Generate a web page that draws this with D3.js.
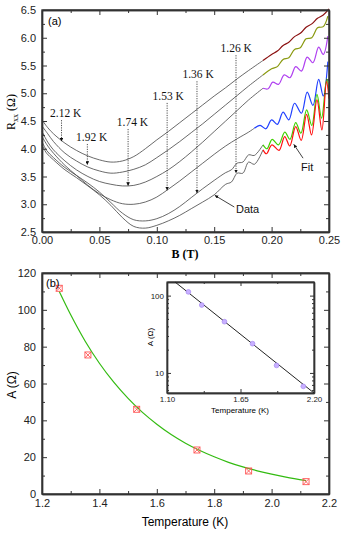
<!DOCTYPE html>
<html><head><meta charset="utf-8">
<script src="https://cdn.jsdelivr.net/npm/d3@7"></script>
<style>
body{margin:0;background:#fff}
svg{display:block}
.ax path,.ax line{stroke:#333}
.ax path{stroke-width:1.4}
.ax text{font-family:"Liberation Sans",Arial,sans-serif;font-size:11px;fill:#222}
.serif{font-family:"Liberation Serif","Times New Roman",serif}
.sans{font-family:"Liberation Sans",Arial,sans-serif}
</style></head><body>
<svg id="chart" width="346" height="533"></svg>
<script>
// ---- panel (a): R_xx vs B, black data curves (B in T, R in ohm)
var data_212 = [[0,4.52],[0.005,4.38],[0.01,4.27],[0.02,4.10],[0.03,3.97],[0.04,3.87],[0.05,3.80],[0.06,3.76],[0.07,3.78],[0.08,3.86],[0.09,4.00],[0.10,4.16],[0.11,4.31],[0.12,4.47],[0.13,4.63],[0.14,4.79],[0.15,4.95],[0.16,5.10],[0.17,5.26],[0.18,5.41],[0.1925,5.59]];
var data_192 = [[0,4.41],[0.005,4.27],[0.01,4.13],[0.02,3.92],[0.03,3.78],[0.04,3.67],[0.05,3.60],[0.06,3.56],[0.07,3.58],[0.08,3.63],[0.09,3.71],[0.10,3.84],[0.11,3.98],[0.12,4.13],[0.13,4.29],[0.14,4.45],[0.15,4.62],[0.16,4.79],[0.17,4.96],[0.18,5.13],[0.1925,5.33]];
var data_174 = [[0,4.31],[0.005,4.12],[0.01,3.98],[0.02,3.78],[0.03,3.62],[0.04,3.50],[0.05,3.41],[0.06,3.36],[0.07,3.33],[0.08,3.34],[0.09,3.40],[0.10,3.50],[0.11,3.62],[0.12,3.77],[0.13,3.94],[0.14,4.12],[0.15,4.31],[0.16,4.50],[0.17,4.69],[0.18,4.88],[0.1925,5.09]];
var data_153 = [[0,4.22],[0.005,4.05],[0.01,3.92],[0.02,3.70],[0.03,3.52],[0.04,3.34],[0.05,3.19],[0.06,3.08],[0.07,3.01],[0.08,3.00],[0.09,3.04],[0.10,3.13],[0.11,3.27],[0.12,3.42],[0.13,3.58],[0.14,3.74],[0.15,3.90],[0.16,4.05],[0.17,4.18],[0.18,4.30],[0.185,4.37]];
var data_136 = [[0,4.13],[0.004,3.97],[0.01,3.84],[0.02,3.66],[0.03,3.52],[0.04,3.38],[0.05,3.22],[0.06,3.03],[0.07,2.84],[0.08,2.72],[0.09,2.70],[0.10,2.74],[0.11,2.83],[0.12,2.96],[0.13,3.12],[0.14,3.28],[0.15,3.43],[0.16,3.57],[0.165,3.62],[0.17,3.74],[0.175,3.76],[0.18,3.89],[0.185,3.88],[0.1925,4.07]];
var data_126 = [[0,4.07],[0.004,3.92],[0.01,3.80],[0.02,3.62],[0.03,3.48],[0.04,3.33],[0.05,3.17],[0.06,2.98],[0.07,2.76],[0.08,2.60],[0.09,2.57],[0.10,2.62],[0.11,2.70],[0.12,2.80],[0.13,2.92],[0.14,3.04],[0.15,3.17],[0.16,3.36],[0.165,3.40],[0.17,3.56],[0.175,3.56],[0.18,3.76],[0.185,3.72],[0.1925,3.98]];

// ---- panel (a): coloured fits (peaks and troughs)
var fit_212 = [[0.1925,5.59],[0.20,5.70],[0.205,5.76],[0.21,5.86],[0.215,5.92],[0.22,6.02],[0.225,6.08],[0.23,6.19],[0.235,6.25],[0.24,6.35],[0.245,6.41],[0.25,6.52]];
var fit_192 = [[0.1925,5.33],[0.20,5.44],[0.205,5.48],[0.21,5.61],[0.215,5.64],[0.22,5.79],[0.225,5.82],[0.23,5.98],[0.235,6.00],[0.24,6.18],[0.245,6.20],[0.249,6.39]];
var fit_174 = [[0.1925,5.09],[0.197,5.08],[0.201,5.20],[0.206,5.16],[0.211,5.33],[0.216,5.28],[0.221,5.48],[0.226,5.40],[0.231,5.65],[0.236,5.55],[0.241,5.83],[0.245,5.70],[0.249,6.03]];
var fit_153 = [[0.185,4.37],[0.19,4.42],[0.195,4.36],[0.20,4.52],[0.205,4.44],[0.21,4.66],[0.215,4.52],[0.22,4.82],[0.226,4.64],[0.231,5.02],[0.236,4.78],[0.241,5.25],[0.245,4.95],[0.249,5.57]];
var fit_136 = [[0.1925,4.07],[0.196,4.00],[0.2005,4.17],[0.206,4.07],[0.2115,4.30],[0.216,4.17],[0.221,4.47],[0.2255,4.28],[0.2305,4.70],[0.235,4.42],[0.2395,4.98],[0.2435,4.55],[0.248,5.26],[0.25,5.0]];
var fit_126 = [[0.1925,3.98],[0.1955,3.91],[0.2003,4.07],[0.2065,3.97],[0.2114,4.22],[0.2158,4.05],[0.221,4.40],[0.2258,4.15],[0.2305,4.62],[0.2348,4.25],[0.2395,4.88],[0.2438,4.34],[0.2478,5.21],[0.25,4.9]];

var temp_labels = ["2.12 K", "1.92 K", "1.74 K", "1.53 K", "1.36 K", "1.26 K"];
var arrow_B = [0.017, 0.0395, 0.075, 0.109, 0.135, 0.169];
var arrow_tip_R = [4.13, 3.71, 3.33, 3.25, 3.20, 3.56];
var label_B = [0.0207, 0.0433, 0.0788, 0.110, 0.136, 0.1692];
var label_R = [4.57, 4.14, 4.41, 4.88, 5.27, 5.74];
var fit_colors = ["#8b1010", "#8a9a10", "#b040f0", "#2040ff", "#40d000", "#ff1010"];

// ---- panel (b): amplitude A vs temperature
var temps = [1.26, 1.36, 1.53, 1.74, 1.92, 2.12];
var amplitude = [111.7, 75.5, 46.0, 23.9, 12.5, 6.7];
var fit_T = [1.26, 1.30, 1.35, 1.40, 1.45, 1.50, 1.55, 1.60, 1.65, 1.70, 1.75, 1.80, 1.85, 1.90, 1.95, 2.00, 2.05, 2.12];
var fit_A = [110.0, 97.3, 83.1, 71.0, 60.7, 51.9, 44.3, 37.9, 32.3, 27.6, 23.6, 20.2, 17.2, 14.7, 12.6, 10.8, 9.2, 7.3];
// inset: straight line on log axis
var inset_line_T = [1.16, 2.20];
var inset_line_A = [150, 5.5];

var svg = d3.select("#chart");

function frame(g, x, y, o) {
    var w = x.range()[1] - x.range()[0];
    var h = y.range()[0] - y.range()[1];
    var fs = o.fs || 11;
    var major = o.major || 5, minor = o.minor || 3;
    // bottom
    g.append("g").attr("class", "ax").attr("transform", "translate(0," + h + ")")
        .call(d3.axisBottom(x).tickValues(o.xMinor).tickSize(-minor).tickSizeOuter(0).tickFormat(""));
    var xb = g.append("g").attr("class", "ax").attr("transform", "translate(0," + h + ")")
        .call(d3.axisBottom(x).tickValues(o.xTicks).tickSize(-major).tickSizeOuter(0).tickPadding(o.xpad || 4).tickFormat(o.xFmt));
    xb.selectAll("text").style("font-size", fs + "px");
    // top
    g.append("g").attr("class", "ax")
        .call(d3.axisTop(x).tickValues(o.xMinor).tickSize(-minor).tickSizeOuter(0).tickFormat(""));
    g.append("g").attr("class", "ax")
        .call(d3.axisTop(x).tickValues(o.xTicks).tickSize(-major).tickSizeOuter(0).tickFormat(""));
    // left
    g.append("g").attr("class", "ax")
        .call(d3.axisLeft(y).tickValues(o.yMinor).tickSize(-minor).tickSizeOuter(0).tickFormat(""));
    var yl = g.append("g").attr("class", "ax")
        .call(d3.axisLeft(y).tickValues(o.yTicks).tickSize(-major).tickSizeOuter(0).tickPadding(o.ypad || 6).tickFormat(o.yFmt));
    yl.selectAll("text").style("font-size", fs + "px");
    // right
    g.append("g").attr("class", "ax").attr("transform", "translate(" + w + ",0)")
        .call(d3.axisRight(y).tickValues(o.yMinor).tickSize(-minor).tickSizeOuter(0).tickFormat(""));
    g.append("g").attr("class", "ax").attr("transform", "translate(" + w + ",0)")
        .call(d3.axisRight(y).tickValues(o.yTicks).tickSize(-major).tickSizeOuter(0).tickFormat(""));
    g.append("rect").attr("width", w).attr("height", h)
        .attr("fill", "none").attr("stroke", "#333").attr("stroke-width", o.sw || 1.4);
}

function steps(a, b, s) {
    var out = [];
    for (var v = a; v <= b + 1e-9; v += s) out.push(+v.toFixed(4));
    return out;
}

// ================= panel (a)
var pa = { left: 42, top: 10, w: 287, h: 222 };
var xa = d3.scaleLinear().domain([0, 0.25]).range([0, pa.w]);
var ya = d3.scaleLinear().domain([2.5, 6.5]).range([pa.h, 0]);
var ga = svg.append("g").attr("transform", "translate(" + pa.left + "," + pa.top + ")");

var line_a = d3.line().curve(d3.curveCatmullRom.alpha(0.5))
    .x(function (d) { return xa(d[0]); })
    .y(function (d) { return ya(d[1]); });

[data_212, data_192, data_174, data_153, data_136, data_126].forEach(function (c) {
    ga.append("path").datum(c).attr("d", line_a)
        .attr("fill", "none").attr("stroke", "#444").attr("stroke-width", 0.8);
});
[fit_212, fit_192, fit_174, fit_153, fit_136, fit_126].forEach(function (c, i) {
    ga.append("path").datum(c).attr("d", line_a)
        .attr("fill", "none").attr("stroke", fit_colors[i]).attr("stroke-width", 1.2);
});

frame(ga, xa, ya, {
    xTicks: steps(0, 0.25, 0.05), xMinor: steps(0.025, 0.225, 0.05), xFmt: d3.format(".2f"),
    yTicks: steps(2.5, 6.5, 0.5), yMinor: steps(2.75, 6.25, 0.5), yFmt: d3.format(".1f"), xpad: 4
});

// temperature markers
var defs = svg.append("defs");
defs.append("marker").attr("id", "tip").attr("viewBox", "0 0 10 10")
    .attr("refX", 10).attr("refY", 5).attr("markerWidth", 4.5).attr("markerHeight", 4.5)
    .attr("orient", "auto").append("path").attr("d", "M0,0L10,5L0,10z").attr("fill", "#111");

temp_labels.forEach(function (t, i) {
    var x0 = xa(arrow_B[i]);
    ga.append("text").attr("class", "serif").attr("x", xa(label_B[i])).attr("y", ya(label_R[i]))
        .attr("text-anchor", "middle").attr("font-size", 11.5).attr("fill", "#111").text(t);
    ga.append("line").attr("x1", x0).attr("x2", x0)
        .attr("y1", ya(label_R[i]) + 3).attr("y2", ya(arrow_tip_R[i]))
        .attr("stroke", "#222").attr("stroke-width", 0.8).attr("stroke-dasharray", "1.2,1.2")
        .attr("marker-end", "url(#tip)");
});

// Data / Fit annotations
ga.append("text").attr("class", "sans").attr("x", xa(0.169)).attr("y", ya(2.84))
    .attr("font-size", 11).attr("fill", "#111").text("Data");
ga.append("line").attr("x1", xa(0.1675)).attr("y1", ya(2.95)).attr("x2", xa(0.1505)).attr("y2", ya(3.16))
    .attr("stroke", "#111").attr("stroke-width", 0.8).attr("marker-end", "url(#tip)");
ga.append("text").attr("class", "sans").attr("x", xa(0.2256)).attr("y", ya(3.60))
    .attr("font-size", 11).attr("fill", "#111").text("Fit");
ga.append("line").attr("x1", xa(0.2274)).attr("y1", ya(3.83)).attr("x2", xa(0.2193)).attr("y2", ya(4.08))
    .attr("stroke", "#111").attr("stroke-width", 0.8).attr("marker-end", "url(#tip)");

ga.append("text").attr("class", "sans").attr("x", 6).attr("y", 15).attr("font-size", 11).text("(a)");

// axis titles
var ra = svg.append("text").attr("class", "serif").attr("font-size", 12)
    .attr("transform", "translate(15,112) rotate(-90)").attr("text-anchor", "middle");
ra.append("tspan").text("R");
ra.append("tspan").attr("font-size", 8).attr("dy", 3).text("xx");
ra.append("tspan").attr("dy", -3).text(" (Ω)");
svg.append("text").attr("class", "serif").attr("font-size", 12).attr("font-weight", "bold")
    .attr("x", 185).attr("y", 258).attr("text-anchor", "middle").text("B (T)");

// ================= panel (b)
var pb = { left: 42, top: 273, w: 287, h: 221 };
var xb = d3.scaleLinear().domain([1.2, 2.2]).range([0, pb.w]);
var yb = d3.scaleLinear().domain([0, 120]).range([pb.h, 0]);
var gb = svg.append("g").attr("transform", "translate(" + pb.left + "," + pb.top + ")");

frame(gb, xb, yb, {
    xTicks: steps(1.2, 2.2, 0.2), xMinor: steps(1.3, 2.1, 0.2), xFmt: d3.format(".1f"),
    yTicks: steps(0, 120, 20), yMinor: steps(10, 110, 20), yFmt: d3.format("d"), xpad: 5
});

var line_b = d3.line().curve(d3.curveMonotoneX)
    .x(function (d, i) { return xb(fit_T[i]); })
    .y(function (d) { return yb(d); });
gb.append("path").datum(fit_A).attr("d", line_b)
    .attr("fill", "none").attr("stroke", "#33bb11").attr("stroke-width", 1.2);

var pts = gb.selectAll(".pt").data(temps).enter().append("g")
    .attr("transform", function (d, i) { return "translate(" + xb(d) + "," + yb(amplitude[i]) + ")"; });
pts.append("rect").attr("x", -3).attr("y", -3).attr("width", 6).attr("height", 6)
    .attr("fill", "none").attr("stroke", "#ff5555").attr("stroke-width", 0.9);
pts.append("path").attr("d", "M-3,-3L3,3M-3,3L3,-3").attr("stroke", "#ff5555").attr("stroke-width", 0.9);

gb.append("text").attr("class", "sans").attr("x", 4).attr("y", 14).attr("font-size", 11).text("(b)");

svg.append("text").attr("class", "sans").attr("font-size", 12)
    .attr("transform", "translate(16,385) rotate(-90)").attr("text-anchor", "middle").text("A (Ω)");
svg.append("text").attr("class", "sans").attr("font-size", 12)
    .attr("x", 185).attr("y", 526).attr("text-anchor", "middle").text("Temperature (K)");

// ================= inset
var pi = { left: 167, top: 282, w: 147, h: 111 };
var xi = d3.scaleLinear().domain([1.10, 2.20]).range([0, pi.w]);
var yi = d3.scaleLog().domain([5.5, 150]).range([pi.h, 0]);
var gi = svg.append("g").attr("transform", "translate(" + pi.left + "," + pi.top + ")");
gi.append("rect").attr("width", pi.w).attr("height", pi.h).attr("fill", "#fff");

frame(gi, xi, yi, {
    xTicks: [1.10, 1.65, 2.20], xMinor: [1.375, 1.925], xFmt: d3.format(".2f"),
    yTicks: [10, 100], yMinor: [6, 7, 8, 9, 20, 30, 40, 50, 60, 70, 80, 90], yFmt: d3.format("d"),
    fs: 8, major: 4, minor: 2, xpad: 3, ypad: 3, sw: 1.1
});

var line_i = d3.line()
    .x(function (d, i) { return xi(inset_line_T[i]); })
    .y(function (d) { return yi(d); });
gi.append("path").datum(inset_line_A).attr("d", line_i)
    .attr("fill", "none").attr("stroke", "#222").attr("stroke-width", 1);

gi.selectAll(".ip").data(temps).enter().append("circle")
    .attr("cx", function (d) { return xi(d); })
    .attr("cy", function (d, i) { return yi(amplitude[i]); })
    .attr("r", 2.4).attr("fill", "#c8b0ff").attr("stroke", "#a080f0").attr("stroke-width", 0.6);

svg.append("text").attr("class", "sans").attr("font-size", 8)
    .attr("transform", "translate(153,337) rotate(-90)").attr("text-anchor", "middle").text("A (Ω)");
svg.append("text").attr("class", "sans").attr("font-size", 8)
    .attr("x", 240).attr("y", 413).attr("text-anchor", "middle").text("Temperature (K)");
</script>
</body></html>
